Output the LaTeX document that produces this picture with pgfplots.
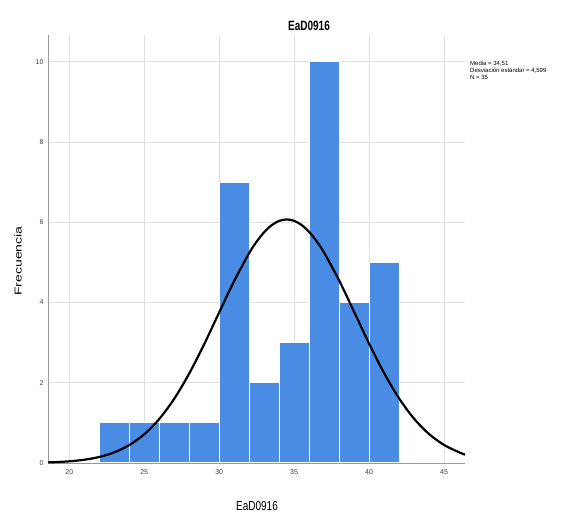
\documentclass[border=0pt]{standalone}
\usepackage{fontspec}
\setmainfont{Liberation Sans}
\usepackage{pgfplots}
\pgfplotsset{compat=1.18}
\definecolor{barblue}{RGB}{74,140,228}
\begin{document}
\begin{tikzpicture}[x=1pt,y=1pt]
\path[use as bounding box] (0,0) rectangle (572,513);
\begin{axis}[
  at={(48pt,50pt)}, anchor=south west,
  scale only axis, width=417pt, height=428pt,
  xmin=18.58, xmax=46.4, ymin=0, ymax=10.67,
  xtick={20,25,30,35,40,45}, ytick={0,2,4,6,8,10},
  major tick length=0pt,
  grid=major, grid style={draw=black!12, line width=0.8pt},
  axis x line*=bottom, axis y line*=left,
  axis line style={-, draw=black!40, line width=0.9pt},
  /pgf/number format/assume math mode=true,
  tick label style={font=\fontsize{7}{8}\selectfont, text=black!75},
  xticklabel style={yshift=-3pt},
  yticklabel style={xshift=-1pt},
  clip=false,
]
\addplot[ybar interval, fill=barblue, draw=white, line width=1pt]
  coordinates {(22,1)(24,1)(26,1)(28,1)(30,7)(32,2)(34,3)(36,10)(38,4)(40,5)(42,5)};
\addplot[black, line width=2.2pt, smooth, tension=0.5, no marks] coordinates {
(18.58,0.0153)(19,0.0206)(20,0.0419)(21,0.0812)(22,0.150)(23,0.265)(24,0.446)
(25,0.716)(26,1.096)(27,1.601)(28,2.230)(29,2.962)(30,3.754)(31,4.538)
(32,5.232)(32.5,5.519)(33,5.753)(33.5,5.928)(34,6.035)(34.51,6.072)(35,6.037)
(35.5,5.933)(36,5.762)(36.5,5.529)(37,5.244)
(38,4.553)(39,3.770)(40,2.978)(41,2.243)(42,1.612)(43,1.105)(44,0.7225)
(45,0.4504)(46,0.2678)(46.4,0.209)};
\end{axis}
\node[font=\bfseries\fontsize{10}{12}\selectfont, yscale=1.35] at (309,487) {EaD0916};
\node[font=\fontsize{10}{12}\selectfont, yscale=1.3] at (257,7) {EaD0916};
\node[font=\fontsize{10}{12}\selectfont, rotate=90, xscale=1.4] at (18,252) {Frecuencia};
\node[anchor=north west, inner sep=0pt, align=left, font=\fontsize{6}{7}\selectfont] at (470,452)
  {Media = 34,51\\Desviación estándar = 4,599\\N = 35};
\end{tikzpicture}
\end{document}
